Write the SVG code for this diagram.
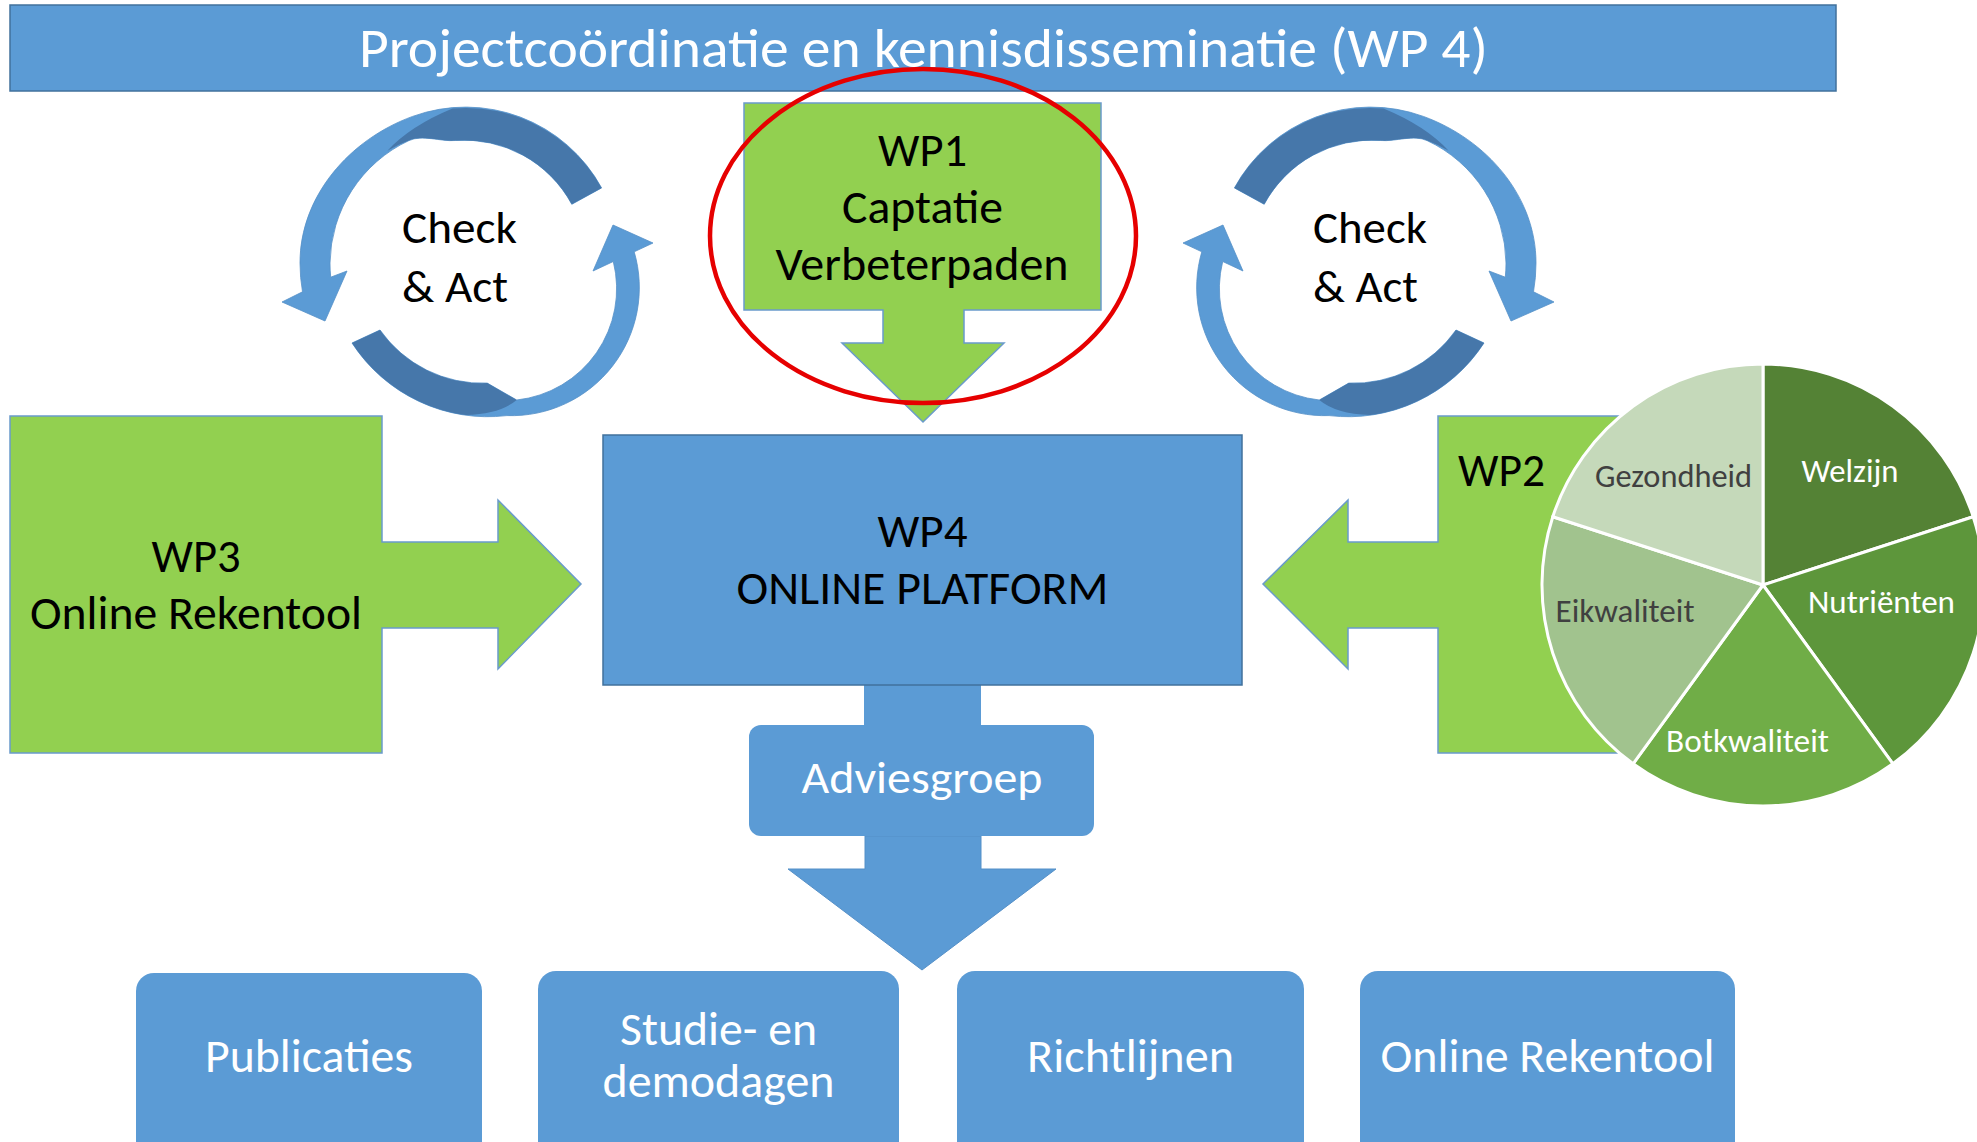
<svg xmlns="http://www.w3.org/2000/svg" width="1977" height="1142" viewBox="0 0 1977 1142">
<defs>
<style>
text{font-family:Carlito,Calibri,Lato,"Liberation Sans",sans-serif;text-anchor:middle}
.blk{fill:#000}
.wht{fill:#fff}
.gry{fill:#404040}
.blue{fill:#5B9BD5;stroke:#41719C;stroke-width:1.5}
.bbox{fill:#5B9BD5}
.green{fill:#92D050;stroke:#6A9BCB;stroke-width:1.5}
.lt{fill:#5B9BD5;stroke:#5590C8;stroke-width:0.8}
.dk{fill:#4677AA}
.sl{stroke:#fff;stroke-width:3}
.f47{font-size:47px}
.f46{font-size:46px}
.f33{font-size:33px}
</style>
</defs>
<rect width="1977" height="1142" fill="#fff"/>

<g id="banner">
<rect class="blue" x="10" y="5" width="1826" height="86"/>
<text class="wht" x="923.5" y="67" font-size="56" textLength="1129" lengthAdjust="spacingAndGlyphs">Projectcoördinatie en kennisdisseminatie (WP 4)</text>
</g>

<g id="connectors">
<g id="cycle-left">
<path class="lt" d="M601.6 187.9 A155 155 0 0 0 412.6 116.4 C349.6 139.3 300 196 300 263 A166 166 0 0 0 302.5 291.8 L282 302 L325 321 L347 271 L330.7 277.2 A136 136 0 0 1 330 263 A137 137 0 0 1 408.9 140.6 C422.5 134.3 440.4 141.8 455.3 140.5 A122 122 0 0 1 571.8 204.3 Z"/>
<path class="dk" d="M601.6 187.9 A155 155 0 0 0 452.5 108.6 Q410.6 125.8 387.4 150.8 A137 137 0 0 1 408.9 140.6 C422.5 134.3 440.4 141.8 455.3 140.5 A122 122 0 0 1 571.8 204.3 Z"/>
<path class="lt" d="M352 343 A162 162 0 0 0 506.9 415.6 A128 128 0 0 0 634.2 251.8 L653 243 L613 225 L593 271 L613.3 261.5 A112 112 0 0 1 516.7 400 L487.2 383.1 A125 125 0 0 1 380 330 Z"/>
<path class="dk" d="M352 343 A162 162 0 0 0 466 415 Q500 414 516.7 400 L487.2 383.1 A125 125 0 0 1 380 330 Z"/>
</g>
<g id="cycle-right" transform="matrix(-1 0 0 1 1836 0)">
<path class="lt" d="M601.6 187.9 A155 155 0 0 0 412.6 116.4 C349.6 139.3 300 196 300 263 A166 166 0 0 0 302.5 291.8 L282 302 L325 321 L347 271 L330.7 277.2 A136 136 0 0 1 330 263 A137 137 0 0 1 408.9 140.6 C422.5 134.3 440.4 141.8 455.3 140.5 A122 122 0 0 1 571.8 204.3 Z"/>
<path class="dk" d="M601.6 187.9 A155 155 0 0 0 452.5 108.6 Q410.6 125.8 387.4 150.8 A137 137 0 0 1 408.9 140.6 C422.5 134.3 440.4 141.8 455.3 140.5 A122 122 0 0 1 571.8 204.3 Z"/>
<path class="lt" d="M352 343 A162 162 0 0 0 506.9 415.6 A128 128 0 0 0 634.2 251.8 L653 243 L613 225 L593 271 L613.3 261.5 A112 112 0 0 1 516.7 400 L487.2 383.1 A125 125 0 0 1 380 330 Z"/>
<path class="dk" d="M352 343 A162 162 0 0 0 466 415 Q500 414 516.7 400 L487.2 383.1 A125 125 0 0 1 380 330 Z"/>
</g>
<rect id="stem-wp4" class="bbox" x="864" y="684" width="117" height="42"/>
<path id="arrow-down" class="bbox" stroke="#5590C8" stroke-width="1" d="M865 836 L981 836 L981 869 L1056 869 L922 970 L788 869 L865 869 Z"/>
</g>

<g id="check-left">
<text class="blk f46" x="402" y="243" style="text-anchor:start" textLength="115" lengthAdjust="spacingAndGlyphs">Check</text>
<text class="blk f46" x="402" y="302" style="text-anchor:start" textLength="106" lengthAdjust="spacingAndGlyphs">&amp; Act</text>
</g>
<g id="check-right">
<text class="blk f46" x="1313" y="243" style="text-anchor:start" textLength="114" lengthAdjust="spacingAndGlyphs">Check</text>
<text class="blk f46" x="1313" y="302" style="text-anchor:start" textLength="105" lengthAdjust="spacingAndGlyphs">&amp; Act</text>
</g>

<g id="wp1">
<path class="green" d="M744 103 L1101 103 L1101 310 L964 310 L964 343 L1004 343 L923 422 L842 343 L883 343 L883 310 L744 310 Z"/>
<text class="blk f47" x="922.5" y="166" textLength="89" lengthAdjust="spacingAndGlyphs">WP1</text>
<text class="blk f47" x="922.5" y="223" textLength="161" lengthAdjust="spacingAndGlyphs">Captatie</text>
<text class="blk f47" x="922" y="280" textLength="293" lengthAdjust="spacingAndGlyphs">Verbeterpaden</text>
</g>

<g id="wp4">
<rect class="blue" x="603" y="435" width="639" height="250"/>
<text class="blk f47" x="922.5" y="547" textLength="90" lengthAdjust="spacingAndGlyphs">WP4</text>
<text class="blk f47" x="922.5" y="604" textLength="372" lengthAdjust="spacingAndGlyphs">ONLINE PLATFORM</text>
</g>

<g id="wp3">
<path class="green" d="M10 416 L382 416 L382 542 L498 542 L498 500 L581 584 L498 669 L498 628 L382 628 L382 753 L10 753 Z"/>
<text class="blk f47" x="196" y="572" textLength="89" lengthAdjust="spacingAndGlyphs">WP3</text>
<text class="blk f47" x="196" y="629" textLength="332" lengthAdjust="spacingAndGlyphs">Online Rekentool</text>
</g>

<g id="wp2">
<path class="green" d="M1438 416 L1810 416 L1810 753 L1438 753 L1438 628 L1348 628 L1348 669 L1263 584 L1348 500 L1348 542 L1438 542 Z"/>
<text class="blk f47" x="1458" y="486" style="text-anchor:start" textLength="87" lengthAdjust="spacingAndGlyphs">WP2</text>
</g>

<g id="pie">
<path class="sl" fill="#548235" d="M1763 585 L1763 364 A221 221 0 0 1 1973.2 516.7 Z"/>
<path class="sl" fill="#5D963B" d="M1763 585 L1973.2 516.7 A221 221 0 0 1 1892.9 763.8 Z"/>
<path class="sl" fill="#70AD47" d="M1763 585 L1892.9 763.8 A221 221 0 0 1 1633.1 763.8 Z"/>
<path class="sl" fill="#A1C38E" d="M1763 585 L1633.1 763.8 A221 221 0 0 1 1552.8 516.7 Z"/>
<path class="sl" fill="#C5D9BA" d="M1763 585 L1552.8 516.7 A221 221 0 0 1 1763 364 Z"/>
<text class="wht f33" x="1850" y="482" textLength="97" lengthAdjust="spacingAndGlyphs">Welzijn</text>
<text class="wht f33" x="1881.5" y="613" textLength="147" lengthAdjust="spacingAndGlyphs">Nutriënten</text>
<text class="wht f33" x="1747.5" y="752" textLength="163" lengthAdjust="spacingAndGlyphs">Botkwaliteit</text>
<text class="gry f33" x="1625" y="622" textLength="139" lengthAdjust="spacingAndGlyphs">Eikwaliteit</text>
<text class="gry f33" x="1673.5" y="487" textLength="157" lengthAdjust="spacingAndGlyphs">Gezondheid</text>
</g>

<g id="adviesgroep">
<rect class="bbox" x="749" y="725" width="345" height="111" rx="12"/>
<text class="wht f46" x="922" y="793" textLength="241" lengthAdjust="spacingAndGlyphs">Adviesgroep</text>
</g>

<g id="publicaties">
<rect class="bbox" x="136" y="973" width="346" height="200" rx="18"/>
<text class="wht f47" x="309" y="1072" textLength="208" lengthAdjust="spacingAndGlyphs">Publicaties</text>
</g>
<g id="studie">
<rect class="bbox" x="538" y="971" width="361" height="200" rx="18"/>
<text class="wht f47" x="718.5" y="1045" textLength="197" lengthAdjust="spacingAndGlyphs">Studie- en</text>
<text class="wht f47" x="718.5" y="1097" textLength="232" lengthAdjust="spacingAndGlyphs">demodagen</text>
</g>
<g id="richtlijnen">
<rect class="bbox" x="957" y="971" width="347" height="200" rx="18"/>
<text class="wht f47" x="1130.5" y="1072" textLength="207" lengthAdjust="spacingAndGlyphs">Richtlijnen</text>
</g>
<g id="online-rekentool">
<rect class="bbox" x="1360" y="971" width="375" height="200" rx="18"/>
<text class="wht f47" x="1547.5" y="1072" textLength="334" lengthAdjust="spacingAndGlyphs">Online Rekentool</text>
</g>

<ellipse id="highlight" cx="923" cy="236" rx="213" ry="167" fill="none" stroke="#E60000" stroke-width="4.5"/>
</svg>
